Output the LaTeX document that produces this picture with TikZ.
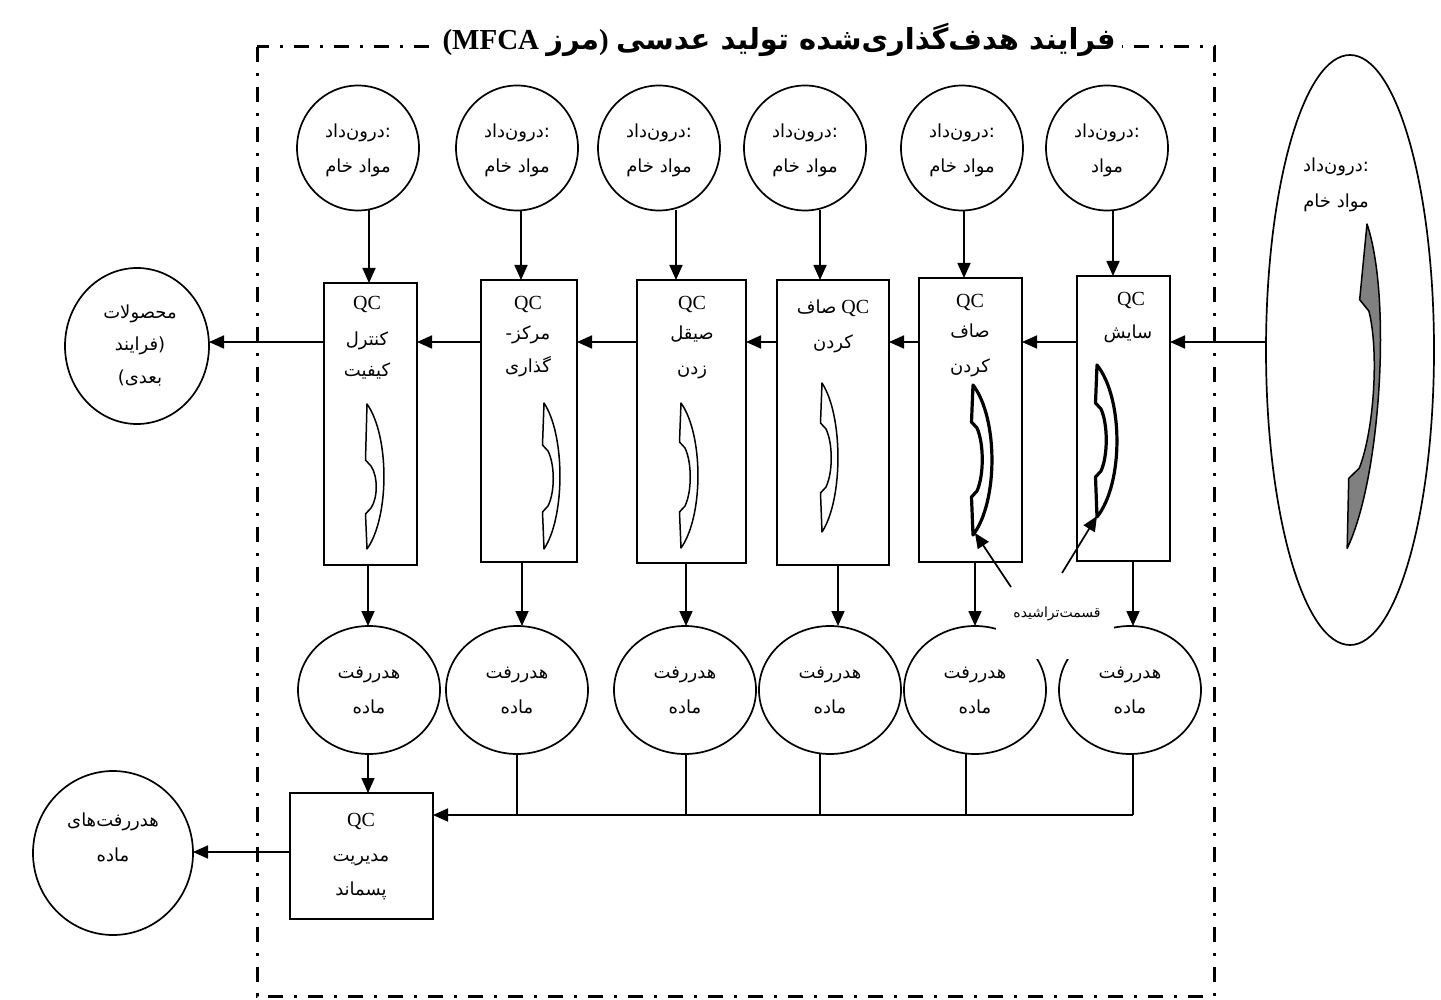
\documentclass[tikz,border=0pt]{standalone}
\usepackage{fontspec}
\setmainfont{Liberation Serif}
\newfontfamily\fa[Script=Arabic]{DejaVu Sans}
\newfontfamily\fapunct{DejaVu Sans}
\TeXXeTstate=1
\usetikzlibrary{arrows.meta,shapes.geometric}
% Persian run, set right to left
\newcommand\fatxt[1]{\fa\beginR#1\endR}
% lens profile: top tip (#1,#2), height #3, outer bulge #4, notch rows #5/#6, style #7, notch scale #8
\newcommand\lensat[8]{%
  \draw[shift={(#1,#2)},#7] (0,0) .. controls ({1.33*#4},{0.22*#3}) and ({1.33*#4},{0.78*#3}) .. (0,#3)
    -- ({-1.5*#8},#6) -- ({4*#8},{#6-6*#8})
    .. controls ({11*#8},{#6-6*#8-0.25*(#6-#5-12*#8)}) and ({11*#8},{#5+6*#8+0.25*(#6-#5-12*#8)}) .. ({4*#8},{#5+6*#8})
    -- ({-1.5*#8},#5) -- cycle;}
\begin{document}
\begin{tikzpicture}[x=1pt,y=-1pt,
  every node/.style={inner sep=0pt,outer sep=0pt},
  conn/.style={line width=1.7pt},
  arr/.style={conn,-{Triangle[length=15pt,width=13pt]}},
  box/.style={draw,line width=1.8pt,rectangle},
  circ/.style={draw,ellipse,line width=1.7pt},
  fl/.style={anchor=base,font=\fontsize{18}{21}\selectfont},
  ql/.style={anchor=base,font=\fontsize{20}{24}\selectfont},
  border/.style={line width=3pt,dash pattern=on 15pt off 11pt on 3pt off 11pt},
  thinlens/.style={draw,line width=1.5pt,fill=white,line join=round},
  boldlens/.style={draw,line width=3.2pt,fill=white,line join=round},
  greylens/.style={draw,line width=1.5pt,fill=gray,line join=round,rotate=-3.5},
]
\useasboundingbox (0,0) rectangle (1441,1000);

% MFCA boundary
\draw[border] (257,47) rectangle (1214,996);
\node[fill=white,inner xsep=7pt,inner ysep=3pt,font=\fontsize{29}{32}\selectfont\bfseries] (title) at (779,40)
  {{\rmfamily\bfseries(MFCA }{\fatxt{مرز}}{\rmfamily\bfseries) }{\fatxt{فرایند هدف‌گذاری‌شده تولید عدسی}}};

% raw material input
\node[circ,minimum width=168pt,minimum height=590pt] (E) at (1350,350) {};
\node[fl] (Ea) at (1336,172) {\fatxt{درون‌داد}:};
\node[fl] (Eb) at (1336,208) {\fatxt{مواد خام}};
\lensat{1367}{224}{325}{22}{76}{255}{greylens}{1.8}

% input circles
\node[circ,minimum width=122pt,minimum height=125pt] (t1) at (358,148) {};
\node[circ,minimum width=122pt,minimum height=125pt] (t2) at (517,148) {};
\node[circ,minimum width=122pt,minimum height=125pt] (t3) at (659,148) {};
\node[circ,minimum width=122pt,minimum height=125pt] (t4) at (805,148) {};
\node[circ,minimum width=122pt,minimum height=125pt] (t5) at (962,148) {};
\node[circ,minimum width=122pt,minimum height=125pt] (t6) at (1107,148) {};
\foreach \n/\x in {1/358,2/517,3/659,4/805,5/962}{
  \node[fl] (t\n a) at (\x,138) {\fatxt{درون‌داد}:};
  \node[fl] (t\n b) at (\x,173) {\fatxt{مواد خام}};
}
\node[fl] (t6a) at (1107,138) {\fatxt{درون‌داد}:};
\node[fl] (t6b) at (1107,173) {\fatxt{مواد}};

% process boxes
\node[box,minimum width=93pt,minimum height=282pt] (b1) at (370.5,424) {};
\node[box,minimum width=96pt,minimum height=282pt] (b2) at (529,421) {};
\node[box,minimum width=109pt,minimum height=283pt] (b3) at (691.5,421.5) {};
\node[box,minimum width=112pt,minimum height=285pt] (b4) at (833,422.5) {};
\node[box,minimum width=103pt,minimum height=284pt] (b5) at (970.5,420) {};
\node[box,minimum width=93pt,minimum height=285pt] (b6) at (1123.5,418.5) {};

\node[ql] (b1q) at (367,310) {QC};
\node[fl] (b1a) at (367,345) {\fatxt{کنترل}};
\node[fl] (b1b) at (367,377) {\fatxt{کیفیت}};
\node[ql] (b2q) at (528,310) {QC};
\node[fl] (b2a) at (528,340) {{\fapunct-}\fatxt{مرکز}};
\node[fl] (b2b) at (528,373) {\fatxt{گذاری}};
\node[ql] (b3q) at (692,310) {QC};
\node[fl] (b3a) at (692,340) {\fatxt{صیقل}};
\node[fl] (b3b) at (692,374) {\fatxt{زدن}};
\node[ql] (b4q) at (833,314) {{\fa\fontsize{18}{21}\selectfont\beginR صاف\endR} QC};
\node[fl] (b4a) at (833,349) {\fatxt{کردن}};
\node[ql] (b5q) at (970,308) {QC};
\node[fl] (b5a) at (970,338) {\fatxt{صاف}};
\node[fl] (b5b) at (970,373) {\fatxt{کردن}};
\node[ql] (b6q) at (1131,306) {QC};
\node[fl] (b6a) at (1128,339) {\fatxt{سایش}};

% lens sketches inside the boxes
\lensat{367}{404}{145}{17}{56}{110}{thinlens}{1}
\lensat{544}{403}{146}{16}{42}{109}{thinlens}{1}
\lensat{681}{403}{145}{17}{39}{109}{thinlens}{1}
\lensat{822}{383}{149}{16}{40}{110}{thinlens}{1}
\lensat{973}{385}{150}{19}{37}{112}{boldlens}{1}
\lensat{1097}{365}{152}{20}{38}{112}{boldlens}{1}
\coordinate (l5) at (975,533);
\coordinate (l6) at (1097,516);

% products
\node[circ,minimum width=144pt,minimum height=156pt] (pc) at (137,346) {};
\node[fl] (pca) at (140,319) {\fatxt{محصولات}};
\node[fl] (pcb) at (140,351) {{\fatxt{فرایند}}{\fapunct)}};
\node[fl] (pcc) at (140,384) {{\fapunct(}{\fatxt{بعدی}}};

% material losses
\foreach \n/\x in {1/369,2/517,3/685,4/830,5/975,6/1130}{
  \node[circ,minimum width=142pt,minimum height=128pt] (w\n) at (\x,690) {};
}
\foreach \n/\x in {1/369,2/517,3/685,4/830,5/975,6/1130}{
  \node[fl] (w\n a) at (\x,678) {\fatxt{هدررفت}};
  \node[fl] (w\n b) at (\x,713) {\fatxt{ماده}};
}

% waste management and losses
\node[box,minimum width=143pt,minimum height=126pt] (wb) at (361.5,856) {};
\node[ql] (wbq) at (361,826) {QC};
\node[fl] (wba) at (361,861) {\fatxt{مدیریت}};
\node[fl] (wbb) at (361,895) {\fatxt{پسماند}};
\node[circ,minimum width=160pt,minimum height=164pt] (wc) at (113,853) {};
\node[fl] (wca) at (113,826) {\fatxt{هدررفت‌های}};
\node[fl] (wcb) at (113,861) {\fatxt{ماده}};

% connector columns and rows
\coordinate (flow) at (0,342);
\coordinate (bus) at (0,815);
\coordinate (wl) at (0,852);
\coordinate (x1) at (369,0);
\coordinate (x2) at (521,0);
\coordinate (x3) at (676,0);
\coordinate (x4) at (820,0);
\coordinate (x5) at (964,0);
\coordinate (x6) at (1113,0);
\coordinate (y1) at (368,0);
\coordinate (y2) at (522,0);
\coordinate (y3) at (686,0);
\coordinate (y4) at (838,0);
\coordinate (y5) at (975,0);
\coordinate (y6) at (1133,0);
\coordinate (v2) at (517,815);
\coordinate (v3) at (686,815);
\coordinate (v4) at (820,815);
\coordinate (v5) at (966,815);
\coordinate (v6) at (1133,815);

% inputs into the steps, steps into losses
\foreach \n in {1,...,6}{
  \draw[arr] (t\n.south -| x\n) -- (b\n.north -| x\n);
  \draw[arr] (b\n.south -| y\n) -- (w\n.north -| y\n);
}
% main flow
\draw[arr] (E.west |- flow) -- (b6.east |- flow);
\draw[arr] (b6.west |- flow) -- (b5.east |- flow);
\draw[arr] (b5.west |- flow) -- (b4.east |- flow);
\draw[arr] (b4.west |- flow) -- (b3.east |- flow);
\draw[arr] (b3.west |- flow) -- (b2.east |- flow);
\draw[arr] (b2.west |- flow) -- (b1.east |- flow);
\draw[arr] (b1.west |- flow) -- (pc.east |- flow);
% losses to waste management
\foreach \n in {2,...,6}{
  \draw[conn] (w\n.south -| v\n) -- (v\n);
}
\draw[arr] (v6) -- (wb.east |- bus);
\draw[arr] (w1.south -| y1) -- (wb.north -| y1);
\draw[arr] (wb.west |- wl) -- (wc.east |- wl);

% shaved portion callout
\node[fill=white,minimum width=118pt,minimum height=66pt,anchor=north] (labbg) at (1055,593) {};
\node[anchor=base,font=\fontsize{14}{16}\selectfont] (lab) at (1057,617) {\fatxt{قسمت‌تراشیده}};
\coordinate (q5) at (1011,587);
\coordinate (q6) at (1062,573);
\draw[arr] (q5) -- (l5);
\draw[arr] (q6) -- (l6);
\end{tikzpicture}
\end{document}
